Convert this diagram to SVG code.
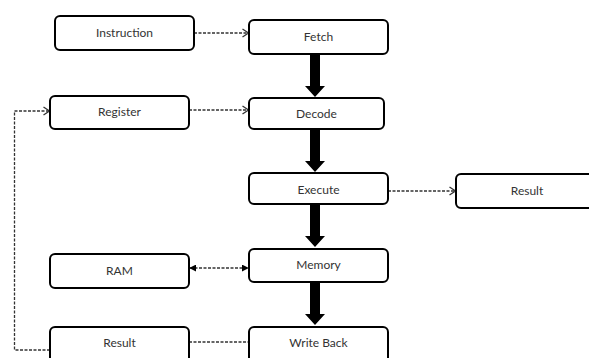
<svg xmlns="http://www.w3.org/2000/svg" width="589" height="358" viewBox="0 0 589 358">
<style>
.box{fill:#fff;stroke:#000;stroke-width:2}
.lbl{font-family:"Lato","Liberation Sans",sans-serif;font-size:12px;fill:#333;text-anchor:middle;dominant-baseline:central}
.dash{fill:none;stroke:#333;stroke-width:1.3;stroke-dasharray:3 1.5}
.thick{fill:#000}
</style>
<defs>
<marker id="open" viewBox="0 0 8 10" refX="7.5" refY="5" markerWidth="8" markerHeight="10" markerUnits="userSpaceOnUse" orient="auto">
<path d="M1,1 L7,5 L1,9" fill="none" stroke="#333" stroke-width="1.3"/>
</marker>
<marker id="fill" viewBox="0 0 8 8" refX="7" refY="4" markerWidth="7" markerHeight="7" markerUnits="userSpaceOnUse" orient="auto-start-reverse">
<path d="M0,0 L8,4 L0,8 Z" fill="#000"/>
</marker>
<path id="big" d="M-5,0 H5 V32 H10 L0,43 L-10,32 H-5 Z"/>
</defs>
<g id="connectors">
<path class="dash" d="M194,33 H249" marker-end="url(#open)"/>
<path class="dash" d="M189,110 H249" marker-end="url(#open)"/>
<path class="dash" d="M388,191 H456" marker-end="url(#open)"/>
<path class="dash" d="M190,268 H248" marker-start="url(#fill)" marker-end="url(#fill)"/>
<path class="dash" d="M189,342 H249"/>
<path class="dash" d="M50,350 H14.5 V111 H50" marker-end="url(#open)"/>
<use href="#big" class="thick" x="315" y="54"/>
<use href="#big" class="thick" x="315" y="129"/>
<use href="#big" class="thick" x="315" y="204"/>
<use href="#big" class="thick" x="315" y="282"/>
</g>
<g id="instruction"><rect class="box" x="55" y="16" width="139" height="34" rx="5"/><text class="lbl" x="124.5" y="32.5">Instruction</text></g>
<g id="fetch"><rect class="box" x="249" y="20" width="139" height="34" rx="5"/><text class="lbl" x="318.5" y="36">Fetch</text></g>
<g id="register"><rect class="box" x="50" y="96" width="139" height="33" rx="5"/><text class="lbl" x="119.5" y="111">Register</text></g>
<g id="decode"><rect class="box" x="249" y="98" width="135" height="31" rx="5"/><text class="lbl" x="316.5" y="113">Decode</text></g>
<g id="execute"><rect class="box" x="249" y="173" width="139" height="31" rx="5"/><text class="lbl" x="318.5" y="189">Execute</text></g>
<g id="result-exec"><rect class="box" x="456" y="174" width="142" height="34" rx="5"/><text class="lbl" x="527" y="190">Result</text></g>
<g id="ram"><rect class="box" x="50" y="254" width="139" height="34" rx="5"/><text class="lbl" x="119.5" y="270">RAM</text></g>
<g id="memory"><rect class="box" x="249" y="249" width="139" height="33" rx="5"/><text class="lbl" x="318.5" y="264.5">Memory</text></g>
<g id="result-wb"><rect class="box" x="50" y="327" width="139" height="40" rx="5"/><text class="lbl" x="119.5" y="342">Result</text></g>
<g id="writeback"><rect class="box" x="249" y="327" width="139" height="40" rx="5"/><text class="lbl" x="318.5" y="342">Write Back</text></g>
</svg>
